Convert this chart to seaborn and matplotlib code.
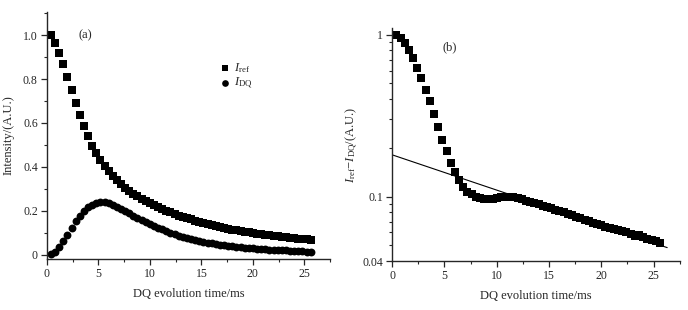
import matplotlib
matplotlib.use("Agg")
import matplotlib.pyplot as plt
import matplotlib.ticker as mticker
import seaborn as sns
import pandas as pd
import numpy as np

# ---- data ----
t_ms = [0.4, 0.8, 1.2, 1.6, 2.0, 2.4, 2.8, 3.2, 3.6, 4.0, 4.4, 4.8, 5.2, 5.6, 6.0, 6.4,
        6.8, 7.2, 7.6, 8.0, 8.4, 8.8, 9.2, 9.6, 10.0, 10.4, 10.8, 11.2, 11.6, 12.0, 12.4, 12.8,
        13.2, 13.6, 14.0, 14.4, 14.8, 15.2, 15.6, 16.0, 16.4, 16.8, 17.2, 17.6, 18.0, 18.4, 18.8, 19.2,
        19.6, 20.0, 20.4, 20.8, 21.2, 21.6, 22.0, 22.4, 22.8, 23.2, 23.6, 24.0, 24.4, 24.8, 25.2, 25.6]

i_ref = [1.0, 0.965, 0.92, 0.867, 0.81, 0.75, 0.692, 0.638, 0.586, 0.54, 0.497, 0.462, 0.432, 0.405, 0.38, 0.358,
         0.338, 0.32, 0.304, 0.29, 0.277, 0.265, 0.254, 0.243, 0.233, 0.224, 0.215, 0.207, 0.199, 0.192, 0.185, 0.178,
         0.172, 0.166, 0.160, 0.154, 0.149, 0.144, 0.139, 0.134, 0.130, 0.126, 0.122, 0.118, 0.114, 0.111, 0.107, 0.104,
         0.101, 0.098, 0.095, 0.093, 0.090, 0.088, 0.086, 0.083, 0.081, 0.079, 0.077, 0.075, 0.073, 0.071, 0.069, 0.067]

i_dq = [0.003, 0.01, 0.035, 0.064, 0.091, 0.121, 0.151, 0.177, 0.2, 0.215, 0.228, 0.236, 0.24, 0.239, 0.234, 0.226,
        0.217, 0.207, 0.198, 0.188, 0.178, 0.168, 0.158, 0.149, 0.140, 0.131, 0.123, 0.115, 0.107, 0.100, 0.093, 0.087,
        0.081, 0.076, 0.071, 0.066, 0.062, 0.058, 0.054, 0.051, 0.048, 0.045, 0.042, 0.040, 0.037, 0.035, 0.033, 0.031,
        0.030, 0.028, 0.027, 0.025, 0.024, 0.023, 0.022, 0.021, 0.020, 0.019, 0.018, 0.017, 0.016, 0.015, 0.014, 0.013]

i_diff = [1.0, 0.954, 0.889, 0.808, 0.718, 0.622, 0.540, 0.457, 0.387, 0.324, 0.267, 0.224, 0.19, 0.162, 0.141, 0.127,
          0.115, 0.107, 0.103, 0.100, 0.098, 0.097, 0.097, 0.097, 0.098, 0.099, 0.100, 0.100, 0.099, 0.098, 0.096, 0.094,
          0.093, 0.091, 0.090, 0.088, 0.086, 0.085, 0.083, 0.081, 0.080, 0.078, 0.077, 0.075, 0.074, 0.072, 0.071, 0.069,
          0.068, 0.067, 0.065, 0.064, 0.063, 0.062, 0.061, 0.060, 0.059, 0.057, 0.058, 0.056, 0.055, 0.054, 0.053, 0.052]

fit_x = [0.0, 26.3]
fit_y = [0.181, 0.0484]

x_ticks = [0, 5, 10, 15, 20, 25]
ya_ticks = [0, 0.2, 0.4, 0.6, 0.8, 1.0]
ya_labels = ["0", "0.2", "0.4", "0.6", "0.8", "1.0"]
yb_ticks = [0.04, 0.1, 1]
yb_labels = ["0.04", "0.1", "1"]

# ---- style ----
sns.set_theme(style="ticks")
plt.rcParams["font.family"] = ["Liberation Serif", "DejaVu Serif"]
plt.rcParams["mathtext.fontset"] = "custom"
plt.rcParams["mathtext.rm"] = "Liberation Serif"
plt.rcParams["mathtext.it"] = "Liberation Serif:italic"
plt.rcParams["axes.linewidth"] = 1.0
for ax_ in ("x", "y"):
    plt.rcParams[f"{ax_}tick.major.size"] = 4
    plt.rcParams[f"{ax_}tick.minor.size"] = 2.2
    plt.rcParams[f"{ax_}tick.major.width"] = 0.9
    plt.rcParams[f"{ax_}tick.minor.width"] = 0.8
    plt.rcParams[f"{ax_}tick.direction"] = "out"
    plt.rcParams[f"{ax_}tick.labelsize"] = 8.5
    plt.rcParams[f"{ax_}tick.major.pad"] = 2.5

df = pd.DataFrame({"t": t_ms, "ref": i_ref, "dq": i_dq, "diff": i_diff})
fit_df = pd.DataFrame({"t": fit_x, "y": fit_y})

fig = plt.figure(figsize=(6.88, 3.10), dpi=100)
ax1 = fig.add_axes([0.068, 0.1645, 0.412, 0.7965])
ax2 = fig.add_axes([0.570, 0.158, 0.418, 0.752])

ms = 26
sns.scatterplot(data=df, x="t", y="ref", marker="s", s=ms, color="black",
                edgecolor="black", linewidth=0, ax=ax1, label=r"$I_{\mathrm{ref}}$")
sns.scatterplot(data=df, x="t", y="dq", marker="o", s=ms + 6, color="black",
                edgecolor="black", linewidth=0, ax=ax1, label=r"$I_{\mathrm{DQ}}$")

ax1.set_xlim(0, 27.5)
ax1.set_ylim(-0.02, 1.105)
ax1.set_xticks(x_ticks)
ax1.xaxis.set_minor_locator(mticker.MultipleLocator(2.5))
ax1.set_yticks(ya_ticks)
ax1.set_yticklabels(ya_labels)
ax1.yaxis.set_minor_locator(mticker.MultipleLocator(0.1))
ax1.set_xlabel("DQ evolution time/ms", fontsize=9, labelpad=6)
ax1.set_ylabel("Intensity/(A.U.)", fontsize=9, labelpad=6)
ax1.text(3.1, 1.0, "(a)", fontsize=9, va="center", ha="left")
leg = ax1.legend(loc="upper left", bbox_to_anchor=(0.58, 0.835), frameon=False,
                 fontsize=9, handletextpad=0.3, handlelength=0.8, labelspacing=0.05,
                 borderpad=0.2, markerscale=0.85)
sns.despine(ax=ax1)

sns.scatterplot(data=df, x="t", y="diff", marker="s", s=ms, color="black",
                edgecolor="black", linewidth=0, ax=ax2)
sns.lineplot(data=fit_df, x="t", y="y", color="black", linewidth=0.8, ax=ax2)
ax2.set_yscale("log")
ax2.set_xlim(0, 27.5)
ax2.set_ylim(0.04, 1.1)
ax2.set_xticks(x_ticks)
ax2.xaxis.set_minor_locator(mticker.MultipleLocator(2.5))
ax2.yaxis.set_major_locator(mticker.FixedLocator(yb_ticks))
ax2.yaxis.set_major_formatter(mticker.FixedFormatter(yb_labels))
ax2.yaxis.set_minor_locator(mticker.LogLocator(base=10, subs=np.arange(2, 10)))
ax2.yaxis.set_minor_formatter(mticker.NullFormatter())
ax2.set_xlabel("DQ evolution time/ms", fontsize=9, labelpad=6)
ax2.set_ylabel(r"$I_{\mathrm{ref}}\!-\!I_{\mathrm{DQ}}$/(A.U.)", fontsize=9, labelpad=2)
ax2.text(4.8, 0.84, "(b)", fontsize=9, va="center", ha="left")
sns.despine(ax=ax2)

fig.savefig("out.png", dpi=100)
